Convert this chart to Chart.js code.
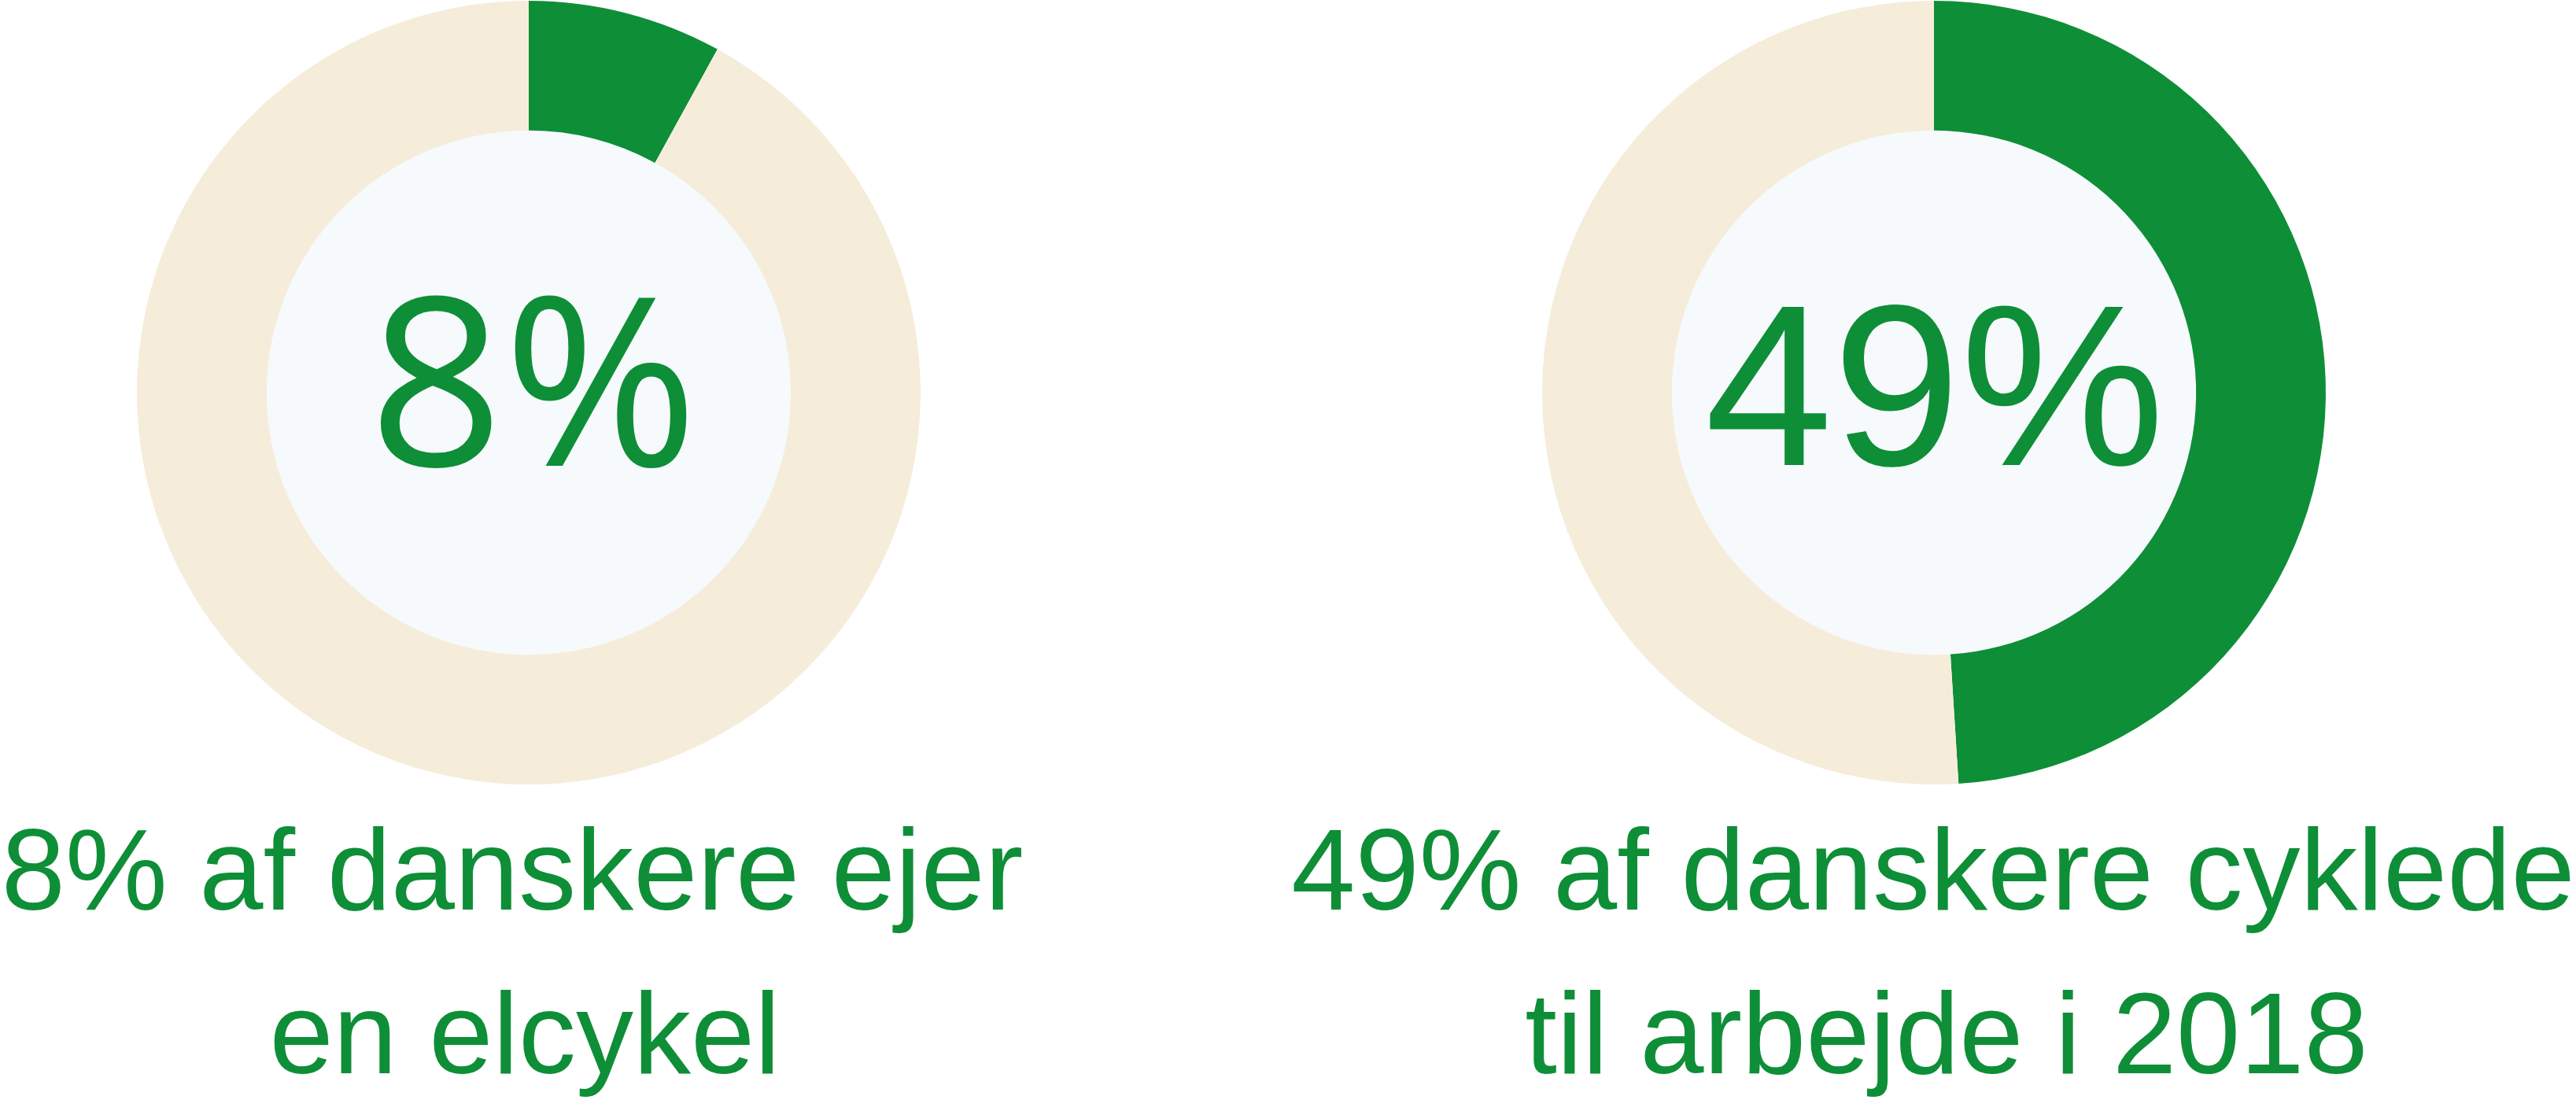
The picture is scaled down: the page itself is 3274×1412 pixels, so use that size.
<!DOCTYPE html>
<html>
<head>
<meta charset="utf-8">
<script src="https://cdn.jsdelivr.net/npm/chart.js@4.4.1/dist/chart.umd.min.js"></script>
<style>
  html, body { margin: 0; padding: 0; background: #ffffff; overflow: hidden; }
  #wrap { position: relative; width: 3274px; height: 1412px; }
  canvas { position: absolute; top: 0; }
</style>
</head>
<body>
<div id="wrap">
  <canvas id="c1" width="1344" height="1412" style="left:0px;width:1344px;height:1412px"></canvas>
  <canvas id="c2" width="1637" height="1412" style="left:1637px;width:1637px;height:1412px"></canvas>
</div>
<script>
// ---- data ----
const segmentLabels = ['Andel', 'Øvrige'];
const elcykelValues = [8, 92];
const pendlerValues = [49, 51];
const centerLabels = ['8%', '49%'];
const captionLeft = ['8% af danskere ejer', 'en elcykel'];
const captionRight = ['49% af danskere cyklede', 'til arbejde i 2018'];

// ---- styles ----
const GREEN = '#0e8e37';
const BEIGE = '#f5edda';
const HOLE = '#f6fafd';

const decor = {
  id: 'decor',
  beforeDatasetsDraw(chart, args, o) {
    const arc = chart.getDatasetMeta(0).data[0];
    const p = arc.getProps(['x', 'y', 'innerRadius'], true);
    const ctx = chart.ctx;
    ctx.save();
    ctx.fillStyle = o.holeColor;
    ctx.beginPath();
    ctx.arc(p.x, p.y, p.innerRadius + 0.5, 0, Math.PI * 2);
    ctx.fill();
    ctx.restore();
  },
  afterDraw(chart, args, o) {
    const ctx = chart.ctx;
    ctx.save();
    ctx.fillStyle = o.color;
    ctx.textAlign = 'center';
    ctx.textBaseline = 'alphabetic';
    ctx.font = o.centerFont;
    ctx.fillText(o.centerText, o.centerX, o.centerY);
    ctx.font = o.captionFont;
    o.caption.forEach((line, i) => ctx.fillText(line, o.captionX[i], o.captionY[i]));
    ctx.restore();
  }
};

function makeChart(id, values, pad, dec) {
  return new Chart(document.getElementById(id), {
    type: 'doughnut',
    data: {
      labels: segmentLabels,
      datasets: [{
        data: values,
        backgroundColor: [GREEN, BEIGE],
        borderWidth: 0,
        hoverOffset: 0
      }]
    },
    options: {
      responsive: false,
      animation: false,
      cutout: '66.9%',
      events: [],
      layout: { padding: pad },
      plugins: {
        legend: { display: false },
        tooltip: { enabled: false },
        decor: dec
      }
    },
    plugins: [decor]
  });
}

function build() {
  makeChart('c1', elcykelValues, { left: 0, right: 0, top: 1, bottom: 415 }, {
    holeColor: HOLE, color: GREEN,
    centerText: centerLabels[0], centerFont: '299px "Open Sans", "Noto Sans", sans-serif', centerX: 678, centerY: 592,
    caption: captionLeft, captionFont: '146px "Liberation Sans", Arial, sans-serif',
    captionX: [651, 667], captionY: [1156, 1364]
  });

  makeChart('c2', pendlerValues, { left: 5, right: 0, top: 1, bottom: 415 }, {
    holeColor: HOLE, color: GREEN,
    centerText: centerLabels[1], centerFont: '292px "Liberation Sans", Arial, sans-serif', centerX: 822, centerY: 591,
    caption: captionRight, captionFont: '146px "Liberation Sans", Arial, sans-serif',
    captionX: [820, 837], captionY: [1156, 1364]
  });
}

Promise.all([
  document.fonts.load('299px "Open Sans"', '8%'),
  document.fonts.load('146px "Liberation Sans"', 'abc')
]).then(build, build);
</script>
</body>
</html>
